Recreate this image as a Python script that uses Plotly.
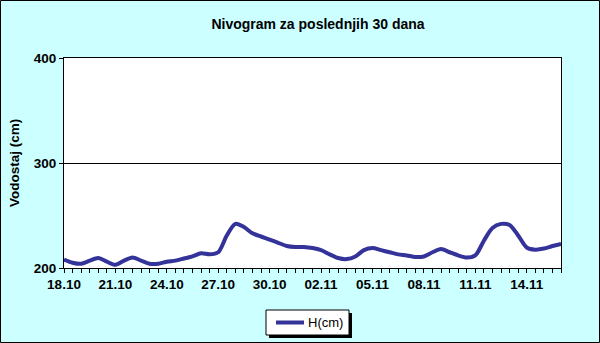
import plotly.graph_objects as go
from datetime import datetime, timedelta

# ---- data (two readings per day, 18.10 -> 16.11) ----
START = "2024-10-18"
STEP_HOURS = 12
LEVEL_CM = [208, 205, 204, 207, 209.5, 206, 203, 207, 210, 207,
            204, 204, 206, 207, 209, 211, 214, 213, 215, 231,
            242, 239, 233, 230, 227, 224, 221, 220, 220, 219,
            217, 213, 209.5, 208.5, 211, 217, 219, 217, 215, 213,
            212, 210.5, 211, 215, 218, 215, 212, 210, 212, 226,
            238, 242, 241, 231, 219.5, 217.5, 218.5, 221, 223]
SERIES_NAME = "H(cm)"
TITLE = "Nivogram za poslednjih 30 dana"
Y_TITLE = "Vodostaj (cm)"
Y_TICKS = [200, 300, 400]
LINE_COLOR = "#333399"

t0 = datetime.fromisoformat(START)
dates = [t0 + timedelta(hours=STEP_HOURS * i) for i in range(len(LEVEL_CM))]

# ---- geometry helpers (pixels) ----
W, H = 600, 343
L, R, T, B = 64, 561, 58, 268
pw, ph = R - L, B - T
def px(x):
    return (x - L) / pw
def py(y):
    return (B - y) / ph

FONT = "Liberation Sans, Arial, sans-serif"

fig = go.Figure()
fig.add_trace(go.Scatter(
    x=dates, y=LEVEL_CM, mode="lines", name=SERIES_NAME,
    line=dict(color=LINE_COLOR, width=4, shape="spline", smoothing=0.8),
    showlegend=False,
))

# legend box drawn as shapes + text (Excel style with drop shadow)
LX0, LX1, LY0, LY1 = 266, 349, 310, 335
LYC = (LY0 + LY1) / 2
legend_shapes = [
    dict(type="rect", xref="paper", yref="paper",
         x0=px(LX0 + 3), x1=px(LX1 + 3), y0=py(LY1 + 3), y1=py(LY0 + 3),
         fillcolor="black", line=dict(width=0), layer="above"),
    dict(type="rect", xref="paper", yref="paper",
         x0=px(LX0), x1=px(LX1), y0=py(LY1), y1=py(LY0),
         fillcolor="white", line=dict(color="black", width=1), layer="above"),
    dict(type="line", xref="paper", yref="paper",
         x0=px(276), x1=px(304), y0=py(LYC), y1=py(LYC),
         line=dict(color=LINE_COLOR, width=4), layer="above"),
]

fig.update_layout(
    width=W, height=H,
    margin=dict(l=L, r=W - R, t=T, b=H - B, pad=0, autoexpand=False),
    paper_bgcolor="#CCFFFF", plot_bgcolor="white",
    font=dict(family=FONT, size=13, color="black"),
    title=dict(text="<b>" + TITLE + "</b>", x=px(318), xref="paper",
               y=1 - 24 / H, yanchor="middle", xanchor="center",
               font=dict(size=14, family=FONT, color="black")),
    showlegend=False,
    xaxis=dict(
        type="date", range=[dates[0], dates[-1]],
        tick0=START, dtick=3 * 86400000, tickformat="%d.%m",
        ticks="outside", ticklen=4, tickcolor="black", tickwidth=1,
        showline=True, linecolor="black", linewidth=1, mirror=True,
        showgrid=False, zeroline=False, automargin=False,
        tickfont=dict(size=13.5, family=FONT, color="black", weight="bold"),
        minor=dict(dtick=STEP_HOURS * 3600000, ticks="outside", ticklen=4,
                   tickcolor="black", showgrid=False),
    ),
    yaxis=dict(
        range=[200, 400], tickvals=Y_TICKS, automargin=False,
        ticks="outside", ticklen=4, tickcolor="black",
        showline=True, linecolor="black", linewidth=1, mirror=True,
        showgrid=True, gridcolor="black", gridwidth=1, zeroline=False,
        tickfont=dict(size=13.5, family=FONT, color="black", weight="bold"),
    ),
    annotations=[
        dict(text="<b>" + Y_TITLE + "</b>", textangle=-90,
             xref="paper", yref="paper", x=px(14), y=py(163),
             xanchor="center", yanchor="middle", showarrow=False,
             font=dict(size=13.5, family=FONT, color="black")),
        dict(text=SERIES_NAME, xref="paper", yref="paper",
             x=px(306), y=py(LYC), xanchor="left", yanchor="middle",
             showarrow=False, font=dict(size=13, family=FONT, color="black")),
    ],
    shapes=legend_shapes + [
        dict(type="rect", xref="paper", yref="paper",
             x0=px(0.5), x1=px(599.5), y0=py(342.5), y1=py(0.5),
             line=dict(color="black", width=1), fillcolor="rgba(0,0,0,0)"),
    ],
)

fig.write_html("out.html")
